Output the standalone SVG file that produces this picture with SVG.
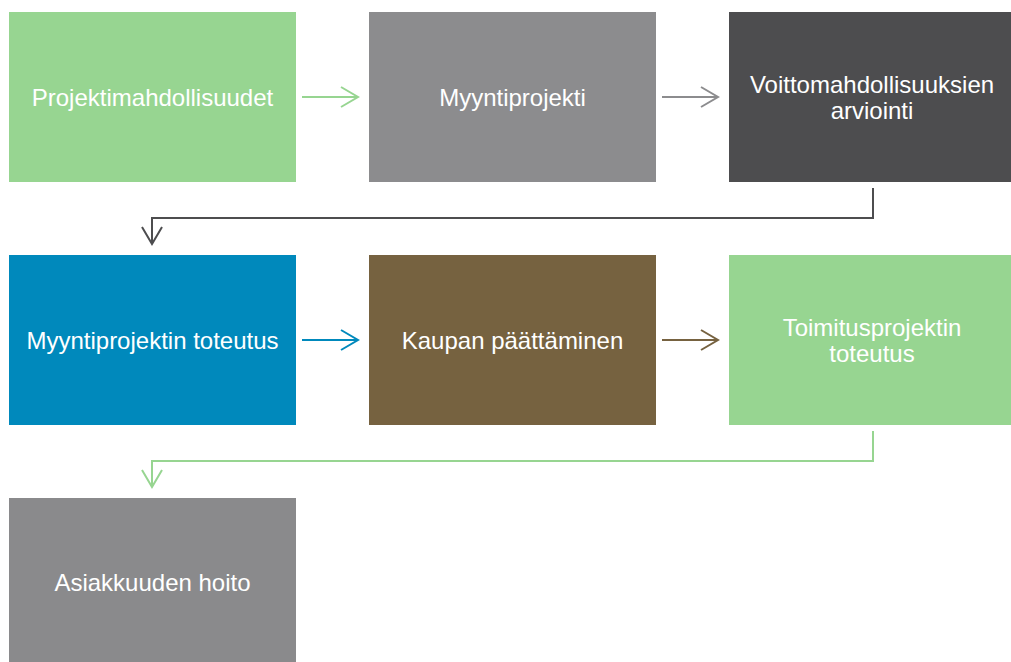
<svg xmlns="http://www.w3.org/2000/svg" width="1011" height="662" viewBox="0 0 1011 662">
  <style>
    .lbl { font-family: "Liberation Sans", Arial, sans-serif; font-size: 24px; fill: #ffffff; text-anchor: middle; dominant-baseline: central; }
    .conn { fill: none; stroke-width: 2; stroke-linecap: butt; stroke-linejoin: miter; }
  </style>
  <rect width="1011" height="662" fill="#ffffff"/>

  <g id="node-projektimahdollisuudet">
    <rect x="9" y="12" width="287" height="170" fill="#97D591"/>
    <text class="lbl" x="152.5" y="97">Projektimahdollisuudet</text>
  </g>
  <g id="node-myyntiprojekti">
    <rect x="369" y="12" width="287" height="170" fill="#8C8C8E"/>
    <text class="lbl" x="512.5" y="97">Myyntiprojekti</text>
  </g>
  <g id="node-voittomahdollisuuksien">
    <rect x="729" y="12" width="282" height="170" fill="#4D4D4F"/>
    <text class="lbl" x="872" y="84">Voittomahdollisuuksien</text>
    <text class="lbl" x="872" y="110">arviointi</text>
  </g>
  <g id="node-myyntiprojektin-toteutus">
    <rect x="9" y="255" width="287" height="170" fill="#0089BC"/>
    <text class="lbl" x="152.5" y="340">Myyntiprojektin toteutus</text>
  </g>
  <g id="node-kaupan-paattaminen">
    <rect x="369" y="255" width="287" height="170" fill="#766240"/>
    <text class="lbl" x="512.5" y="340">Kaupan päättäminen</text>
  </g>
  <g id="node-toimitusprojektin-toteutus">
    <rect x="729" y="255" width="282" height="170" fill="#97D591"/>
    <text class="lbl" x="872" y="327">Toimitusprojektin</text>
    <text class="lbl" x="872" y="353">toteutus</text>
  </g>
  <g id="node-asiakkuuden-hoito">
    <rect x="9" y="498" width="287" height="164" fill="#8A8A8C"/>
    <text class="lbl" x="152.5" y="582">Asiakkuuden hoito</text>
  </g>

  <g id="connectors">
    <!-- row 1 -->
    <path class="conn" stroke="#97D591" d="M302 97 H358 M341 87 L358 97 L341 107"/>
    <path class="conn" stroke="#8C8C8E" d="M662 97 H718 M701 87 L718 97 L701 107"/>
    <!-- row 1 to row 2 -->
    <path class="conn" stroke="#4D4D4F" d="M873 188 V218 H152 V244 M142 227 L152 244 L162 227"/>
    <!-- row 2 -->
    <path class="conn" stroke="#0089BC" d="M302 340 H358 M341 330 L358 340 L341 350"/>
    <path class="conn" stroke="#766240" d="M662 340 H718 M701 330 L718 340 L701 350"/>
    <!-- row 2 to row 3 -->
    <path class="conn" stroke="#97D591" d="M873 431 V461 H152 V487 M142 470 L152 487 L162 470"/>
  </g>
</svg>
